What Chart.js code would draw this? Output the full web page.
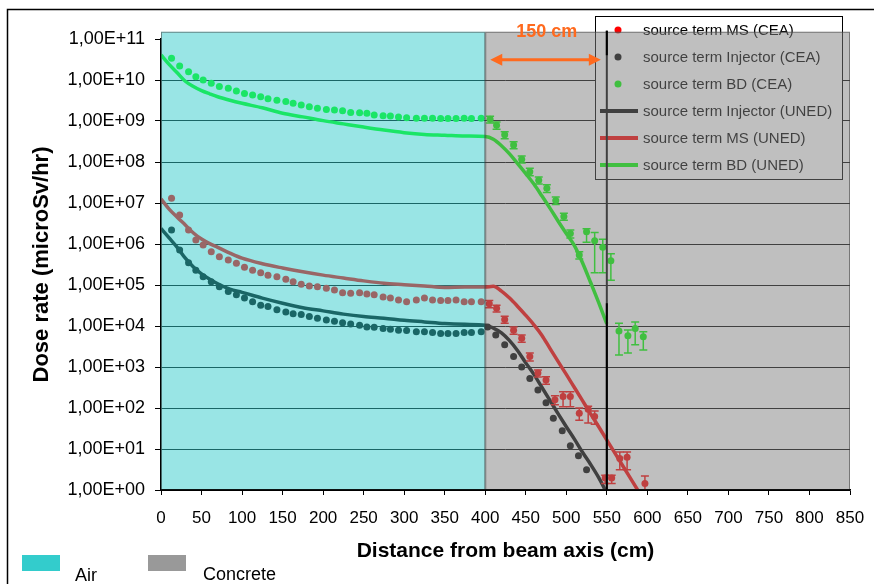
<!DOCTYPE html>
<html><head><meta charset="utf-8">
<script src="https://cdn.jsdelivr.net/npm/chart.js@4.4.1/dist/chart.umd.min.js"></script>
<style>html,body{margin:0;padding:0;background:#fff;}#wrap{width:874px;height:584px;}</style>
</head><body><div id="wrap"><canvas id="c" width="874" height="584"></canvas></div>
<script>
// ---------- DATA ----------
const seriesLabels = ['source term MS (CEA)','source term Injector (CEA)','source term BD (CEA)',
  'source term Injector (UNED)','source term MS (UNED)','source term BD (UNED)'];
const regionLabels = ['Air','Concrete'];
const regionRanges = [[0,400],[400,850]];
const xTickValues = [0,50,100,150,200,250,300,350,400,450,500,550,600,650,700,750,800,850];
const yTickValues = [1,1e1,1e2,1e3,1e4,1e5,1e6,1e7,1e8,1e9,1e10,1e11];
const yTickLabels = ['1,00E+00','1,00E+01','1,00E+02','1,00E+03','1,00E+04','1,00E+05','1,00E+06','1,00E+07','1,00E+08','1,00E+09','1,00E+10','1,00E+11'];
const annotationText = '150 cm';

// UNED (lines)
const unedX_BD = [0,10,20,30,40,50,60,70,85,100,125,150,175,200,225,250,275,300,325,350,375,400,410,420,430,440,450,460,470,480,490,500,510,520,530,540,550];
const uned_BD = [4.1e10,2.4e10,1.5e10,9.3e9,6.9e9,5.5e9,4.6e9,3.9e9,3.2e9,2.7e9,2.1e9,1.55e9,1.26e9,1.02e9,8.5e8,7.1e8,6.0e8,5.2e8,4.7e8,4.5e8,4.3e8,4.2e8,
  3.6e8,2.5e8,1.58e8,9.1e7,5.2e7,2.9e7,1.48e7,7.4e6,3.6e6,1.8e6,9.1e5,3.5e5,1.15e5,3.7e4,1.12e4];
const unedX_MS = [0,10,20,30,40,50,60,70,85,100,125,150,175,200,225,250,275,300,325,350,375,400,410,420,430,440,450,460,470,480,490,500,510,520,530,540,550,560,570,580,588];
const uned_MS = [1.26e7,7.1e6,4.5e6,2.9e6,1.86e6,1.32e6,1.02e6,8.3e5,6.0e5,4.5e5,3.3e5,2.6e5,2.1e5,1.74e5,1.48e5,1.26e5,1.1e5,1.02e5,9.5e4,8.7e4,8.9e4,8.9e4,
  9.3e4,7.1e4,4.8e4,3.0e4,1.82e4,1.07e4,5.9e3,2.8e3,1.35e3,660,316,151,72,35,16.6,7.9,3.8,1.82,1.0];
const unedX_Inj = [0,10,20,30,40,50,60,70,85,100,125,150,175,200,225,250,275,300,325,350,375,400,410,420,430,440,450,460,470,480,490,500,510,520,530,540,548];
const uned_Inj = [2.4e6,1.41e6,8.3e5,4.5e5,2.75e5,1.86e5,1.38e5,1.07e5,7.9e4,6.6e4,4.8e4,3.6e4,2.8e4,2.34e4,1.95e4,1.7e4,1.55e4,1.38e4,1.26e4,1.15e4,1.1e4,1.05e4,
  8.9e3,6.8e3,4.4e3,2.5e3,1.26e3,660,316,151,72,35,17.4,8.3,4.2,2.0,1.0];

// CEA (points)
const ceaX_BD = [13,23,34,43,52,62,72,83,93,103,113,123,132,143,154,163,173,183,193,204,214,224,234,245,254,263,274,283,293,303,315,325,335,345,354,364,374,383,395,
  406,414,424,435,445,455,466,476,487,497,505,516,525,535,545,555,565,576,585,595];
const cea_BD = [3.4e10,2.2e10,1.6e10,1.2e10,1.0e10,8.3e9,6.9e9,6.3e9,5.4e9,4.7e9,4.3e9,3.9e9,3.5e9,3.2e9,3.0e9,2.7e9,2.45e9,2.24e9,2.04e9,1.9e9,
  1.86e9,1.78e9,1.62e9,1.58e9,1.55e9,1.41e9,1.35e9,1.32e9,1.26e9,1.2e9,1.17e9,1.17e9,1.17e9,1.15e9,1.15e9,1.15e9,1.17e9,1.15e9,1.17e9,
  1.1e9,7.9e8,4.6e8,2.6e8,1.17e8,5.8e7,3.6e7,2.3e7,1.15e7,4.7e6,1.8e6,5.4e5,2.0e6,1.2e6,8.3e5,3.9e5,7.6e3,5.8e3,8.7e3,5.5e3];
const errX_BD = [406,414,424,435,445,455,466,476,487,497,505,516,525,535,545,555,565,576,585,595];
const errLow_BD = [9.0e8,6.3e8,3.7e8,2.1e8,9.4e7,4.6e7,2.9e7,1.8e7,9.2e6,3.8e6,1.4e6,4.3e5,1.1e6,2.0e5,2.0e5,1.3e5,1.95e3,2.2e3,3.5e3,2.6e3];
const errHigh_BD = [1.3e9,9.5e8,5.5e8,3.1e8,1.4e8,7.0e7,4.3e7,2.8e7,1.4e7,5.6e6,2.2e6,6.5e5,2.35e6,1.9e6,1.3e6,5.8e5,1.17e4,8.0e3,1.26e4,7.2e3];

const ceaX_MS = [13,23,34,43,52,62,72,83,93,103,113,123,132,143,154,163,173,183,193,204,214,224,234,245,254,263,274,283,293,303,315,325,335,345,354,364,374,383,395,
  405,414,424,435,445,455,465,475,486,496,505,516,527,535,548,556,566,575,597];
const cea_MS = [1.3e7,5.1e6,2.2e6,1.26e6,9.5e5,6.5e5,4.9e5,4.1e5,3.4e5,2.7e5,2.3e5,2.0e5,1.74e5,1.58e5,1.38e5,1.2e5,1.05e5,9.5e4,9.1e4,8.3e4,
  7.6e4,6.5e4,6.3e4,6.5e4,6.0e4,5.8e4,5.1e4,4.8e4,4.3e4,3.9e4,4.3e4,4.8e4,4.3e4,4.2e4,4.2e4,4.3e4,3.9e4,3.9e4,3.9e4,
  3.5e4,2.7e4,1.45e4,7.9e3,5.0e3,1.8e3,710,480,160,190,190,74,93,62,1.95,1.95,5.9,6.3,1.45];
const errX_MS = [405,414,424,435,445,455,465,475,486,496,505,516,527,535,548,556,566,575,597];
const errLow_MS = [2.8e4,2.2e4,1.16e4,6.3e3,4.0e3,1.4e3,570,380,120,107,107,50,43,40,1.45,1.45,3.1,3.1,0.5];
const errHigh_MS = [4.2e4,3.2e4,1.74e4,9.5e3,6.0e3,2.2e3,850,580,200,250,250,100,110,85,2.3,2.3,8.5,8.5,2.2];

const ceaX_Inj = [13,23,34,43,52,62,72,83,93,103,113,123,132,143,154,163,173,183,193,204,214,224,234,245,254,263,274,283,293,303,315,325,335,345,354,364,374,383,395,
  403,413,424,435,445,455,465,475,484,495,505,515,525];
const cea_Inj = [2.2e6,7.1e5,3.5e5,2.3e5,1.6e5,1.2e5,9.1e4,6.9e4,5.8e4,4.8e4,3.9e4,3.2e4,3.0e4,2.5e4,2.2e4,2.0e4,1.9e4,1.7e4,1.55e4,1.4e4,
  1.3e4,1.2e4,1.12e4,1.05e4,9.5e3,9.3e3,8.7e3,8.3e3,7.9e3,7.8e3,7.2e3,7.2e3,6.9e3,6.6e3,6.6e3,6.6e3,6.9e3,6.9e3,7.2e3,
  9.5e3,6.0e3,3.5e3,1.8e3,1.0e3,525,275,135,56,28,12,6.8,3.1];

// annotation anchors (data space)
const boundaryX = 550;
const arrowY = 3.1e10;
const labelX = 476, labelY = 1.48e11;
const regionTopValue = 1.5e11;

// ---------- STYLE ----------
const RED = '#ff0000', BLACK = '#000000', GREEN = '#00ff00';
const pts = (xs, ys) => xs.map((x, i) => ({x: x, y: ys[i]}));

const errSets = [
  {x: errX_MS, lo: errLow_MS, hi: errHigh_MS, color: RED},
  {x: errX_BD, lo: errLow_BD, hi: errHigh_BD, color: GREEN}
];

const overlayPlugin = {
  id: 'overlay',
  afterDatasetsDraw(chart) {
    const {ctx, chartArea: ca, scales: {x, y}} = chart;
    // error bars
    ctx.save();
    ctx.beginPath(); ctx.rect(ca.left, ca.top, ca.right - ca.left, ca.bottom - ca.top); ctx.clip();
    errSets.forEach(s => {
      ctx.strokeStyle = s.color; ctx.lineWidth = 1.5;
      s.x.forEach((xv, i) => {
        const px = x.getPixelForValue(xv);
        const pl = y.getPixelForValue(s.lo[i]);
        const ph = y.getPixelForValue(s.hi[i]);
        ctx.beginPath();
        ctx.moveTo(px, pl); ctx.lineTo(px, ph);
        ctx.moveTo(px - 4, pl); ctx.lineTo(px + 4, pl);
        ctx.moveTo(px - 4, ph); ctx.lineTo(px + 4, ph);
        ctx.stroke();
      });
    });
    ctx.restore();

    // legend box
    const ds = chart.data.datasets;
    ctx.save();
    ctx.fillStyle = '#ffffff';
    ctx.fillRect(595, 16, 247, 163);
    ctx.strokeStyle = '#000'; ctx.lineWidth = 1;
    ctx.strokeRect(595.5, 16.5, 247, 163);
    ctx.font = '15px "Liberation Sans", Arial, sans-serif';
    ctx.textBaseline = 'middle'; ctx.textAlign = 'left';
    ds.forEach((d, i) => {
      const cy = 30 + i * 27;
      if (d.showLine) {
        ctx.strokeStyle = d.borderColor; ctx.lineWidth = 4;
        ctx.beginPath(); ctx.moveTo(600, cy); ctx.lineTo(638, cy); ctx.stroke();
      } else {
        ctx.fillStyle = d.backgroundColor;
        ctx.beginPath(); ctx.arc(618, cy, 3.5, 0, Math.PI * 2); ctx.fill();
      }
      ctx.fillStyle = '#000';
      ctx.fillText(d.label, 643, cy + 1);
    });
    ctx.restore();

    // boundary line (under overlay)
    const bx = x.getPixelForValue(boundaryX);
    ctx.save();
    ctx.strokeStyle = '#000'; ctx.lineWidth = 2;
    ctx.beginPath(); ctx.moveTo(bx, y.getPixelForValue(1.6e11)); ctx.lineTo(bx, ca.bottom); ctx.stroke();
    ctx.restore();

    // semi-transparent region overlays
    const topPx = y.getPixelForValue(regionTopValue);
    const fills = ['rgba(51,204,204,0.5)', 'rgba(128,128,128,0.5)'];
    ctx.save();
    regionRanges.forEach((r, i) => {
      const x0 = x.getPixelForValue(r[0]), x1 = x.getPixelForValue(r[1]);
      ctx.fillStyle = fills[i];
      ctx.fillRect(x0, topPx, x1 - x0, ca.bottom - topPx);
      ctx.strokeStyle = 'rgba(60,60,60,0.55)'; ctx.lineWidth = 1;
      ctx.strokeRect(x0 + 0.5, topPx + 0.5, x1 - x0 - 1, ca.bottom - topPx - 1);
    });
    ctx.restore();

    // x-axis line on top
    ctx.save();
    ctx.strokeStyle = '#000'; ctx.lineWidth = 1.5;
    ctx.beginPath(); ctx.moveTo(ca.left, ca.bottom); ctx.lineTo(ca.right, ca.bottom); ctx.stroke();
    // boundary line top segments
    ctx.lineWidth = 2;
    ctx.beginPath();
    ctx.moveTo(bx, y.getPixelForValue(1.6e11)); ctx.lineTo(bx, y.getPixelForValue(4e10));
    ctx.moveTo(bx, y.getPixelForValue(3.6e4)); ctx.lineTo(bx, ca.bottom);
    ctx.stroke();
    ctx.restore();

    // orange arrow + label
    const ax0 = x.getPixelForValue(regionRanges[0][1]) + 5;
    const ax1 = x.getPixelForValue(boundaryX) - 6;
    const ay = y.getPixelForValue(arrowY);
    ctx.save();
    ctx.strokeStyle = '#ff6a1e'; ctx.fillStyle = '#ff6a1e'; ctx.lineWidth = 3;
    ctx.beginPath(); ctx.moveTo(ax0 + 8, ay); ctx.lineTo(ax1 - 8, ay); ctx.stroke();
    ctx.beginPath(); ctx.moveTo(ax0, ay); ctx.lineTo(ax0 + 12, ay - 6); ctx.lineTo(ax0 + 12, ay + 6); ctx.closePath(); ctx.fill();
    ctx.beginPath(); ctx.moveTo(ax1, ay); ctx.lineTo(ax1 - 12, ay - 6); ctx.lineTo(ax1 - 12, ay + 6); ctx.closePath(); ctx.fill();
    ctx.font = 'bold 18px "Liberation Sans", Arial, sans-serif';
    ctx.textAlign = 'center'; ctx.textBaseline = 'middle';
    ctx.fillText(annotationText, x.getPixelForValue(labelX), y.getPixelForValue(labelY));
    ctx.restore();
  },
  afterDraw(chart) {
    const {ctx} = chart;
    ctx.save();
    // outer frame
    ctx.strokeStyle = '#000'; ctx.lineWidth = 1.5;
    ctx.strokeRect(7.5, 9.5, 1000, 1000);
    // region legend
    const boxColors = ['#33cccc', '#999999'];
    const boxX = [22, 148], textX = [75, 203], textY = [581, 580];
    ctx.font = '18px "Liberation Sans", Arial, sans-serif';
    ctx.textBaseline = 'alphabetic'; ctx.textAlign = 'left';
    regionLabels.forEach((lab, i) => {
      ctx.fillStyle = boxColors[i];
      ctx.fillRect(boxX[i], 555, 38, 16);
      ctx.fillStyle = '#000';
      ctx.fillText(lab, textX[i], textY[i]);
    });
    ctx.restore();
  }
};

const lineDs = (label, xs, ys, color) => ({
  label, data: pts(xs, ys), showLine: true, borderColor: color, backgroundColor: color,
  borderWidth: 3.5, pointRadius: 0, cubicInterpolationMode: 'monotone'
});
const dotDs = (label, xs, ys, color) => ({
  label, data: pts(xs, ys), showLine: false, borderColor: color, backgroundColor: color,
  pointRadius: 3.5, pointBorderWidth: 0
});

new Chart(document.getElementById('c'), {
  type: 'scatter',
  data: {
    datasets: [
      dotDs(seriesLabels[0], ceaX_MS, cea_MS, RED),
      dotDs(seriesLabels[1], ceaX_Inj, cea_Inj, BLACK),
      dotDs(seriesLabels[2], ceaX_BD, cea_BD, GREEN),
      lineDs(seriesLabels[3], unedX_Inj, uned_Inj, BLACK),
      lineDs(seriesLabels[4], unedX_MS, uned_MS, RED),
      lineDs(seriesLabels[5], unedX_BD, uned_BD, GREEN)
    ]
  },
  options: {
    responsive: false, animation: false, devicePixelRatio: 1,
    layout: {padding: {left: 0, top: 39, right: 24, bottom: 0}},
    plugins: {legend: {display: false}, tooltip: {enabled: false}},
    scales: {
      x: {
        type: 'linear', position: 'bottom', min: 0, max: 850,
        afterBuildTicks: s => { s.ticks = xTickValues.map(v => ({value: v})); },
        afterFit: s => { s.height = 94; s.paddingLeft = 0; s.paddingRight = 0; },
        ticks: {autoSkip: false, maxRotation: 0, color: '#000', padding: 13,
          font: {family: '"Liberation Sans Narrow", "Arial Narrow", "Liberation Sans", sans-serif', size: 17}},
        grid: {drawOnChartArea: false, drawTicks: true, tickLength: 5, tickColor: '#000', color: '#000'},
        border: {display: true, color: '#000', width: 1.5},
        title: {display: true, text: 'Distance from beam axis (cm)', color: '#000',
          font: {family: '"Liberation Sans", Arial, sans-serif', size: 21, weight: 'bold'},
          padding: {top: 0, bottom: 20}}
      },
      y: {
        type: 'logarithmic', min: 1, max: 1e11,
        afterBuildTicks: s => { s.ticks = yTickValues.map(v => ({value: v})); },
        afterFit: s => { s.width = 161; s.paddingTop = 0; s.paddingBottom = 0; },
        ticks: {color: '#000', padding: 10, autoSkip: false,
          font: {family: '"Liberation Sans", Arial, sans-serif', size: 18},
          callback: (v) => { const i = yTickValues.indexOf(v); return i >= 0 ? yTickLabels[i] : ''; }},
        grid: {color: c => (c.tick && c.tick.value >= 1e11) ? 'rgba(0,0,0,0)' : '#000',
          tickColor: '#000', tickLength: 6, lineWidth: 1},
        border: {display: true, color: '#000', width: 1.5},
        title: {display: true, text: 'Dose rate (microSv/hr)', color: '#000',
          font: {family: '"Liberation Sans", Arial, sans-serif', size: 22, weight: 'bold'},
          padding: {top: 29, bottom: 0}}
      }
    }
  },
  plugins: [overlayPlugin]
});
</script></body></html>
